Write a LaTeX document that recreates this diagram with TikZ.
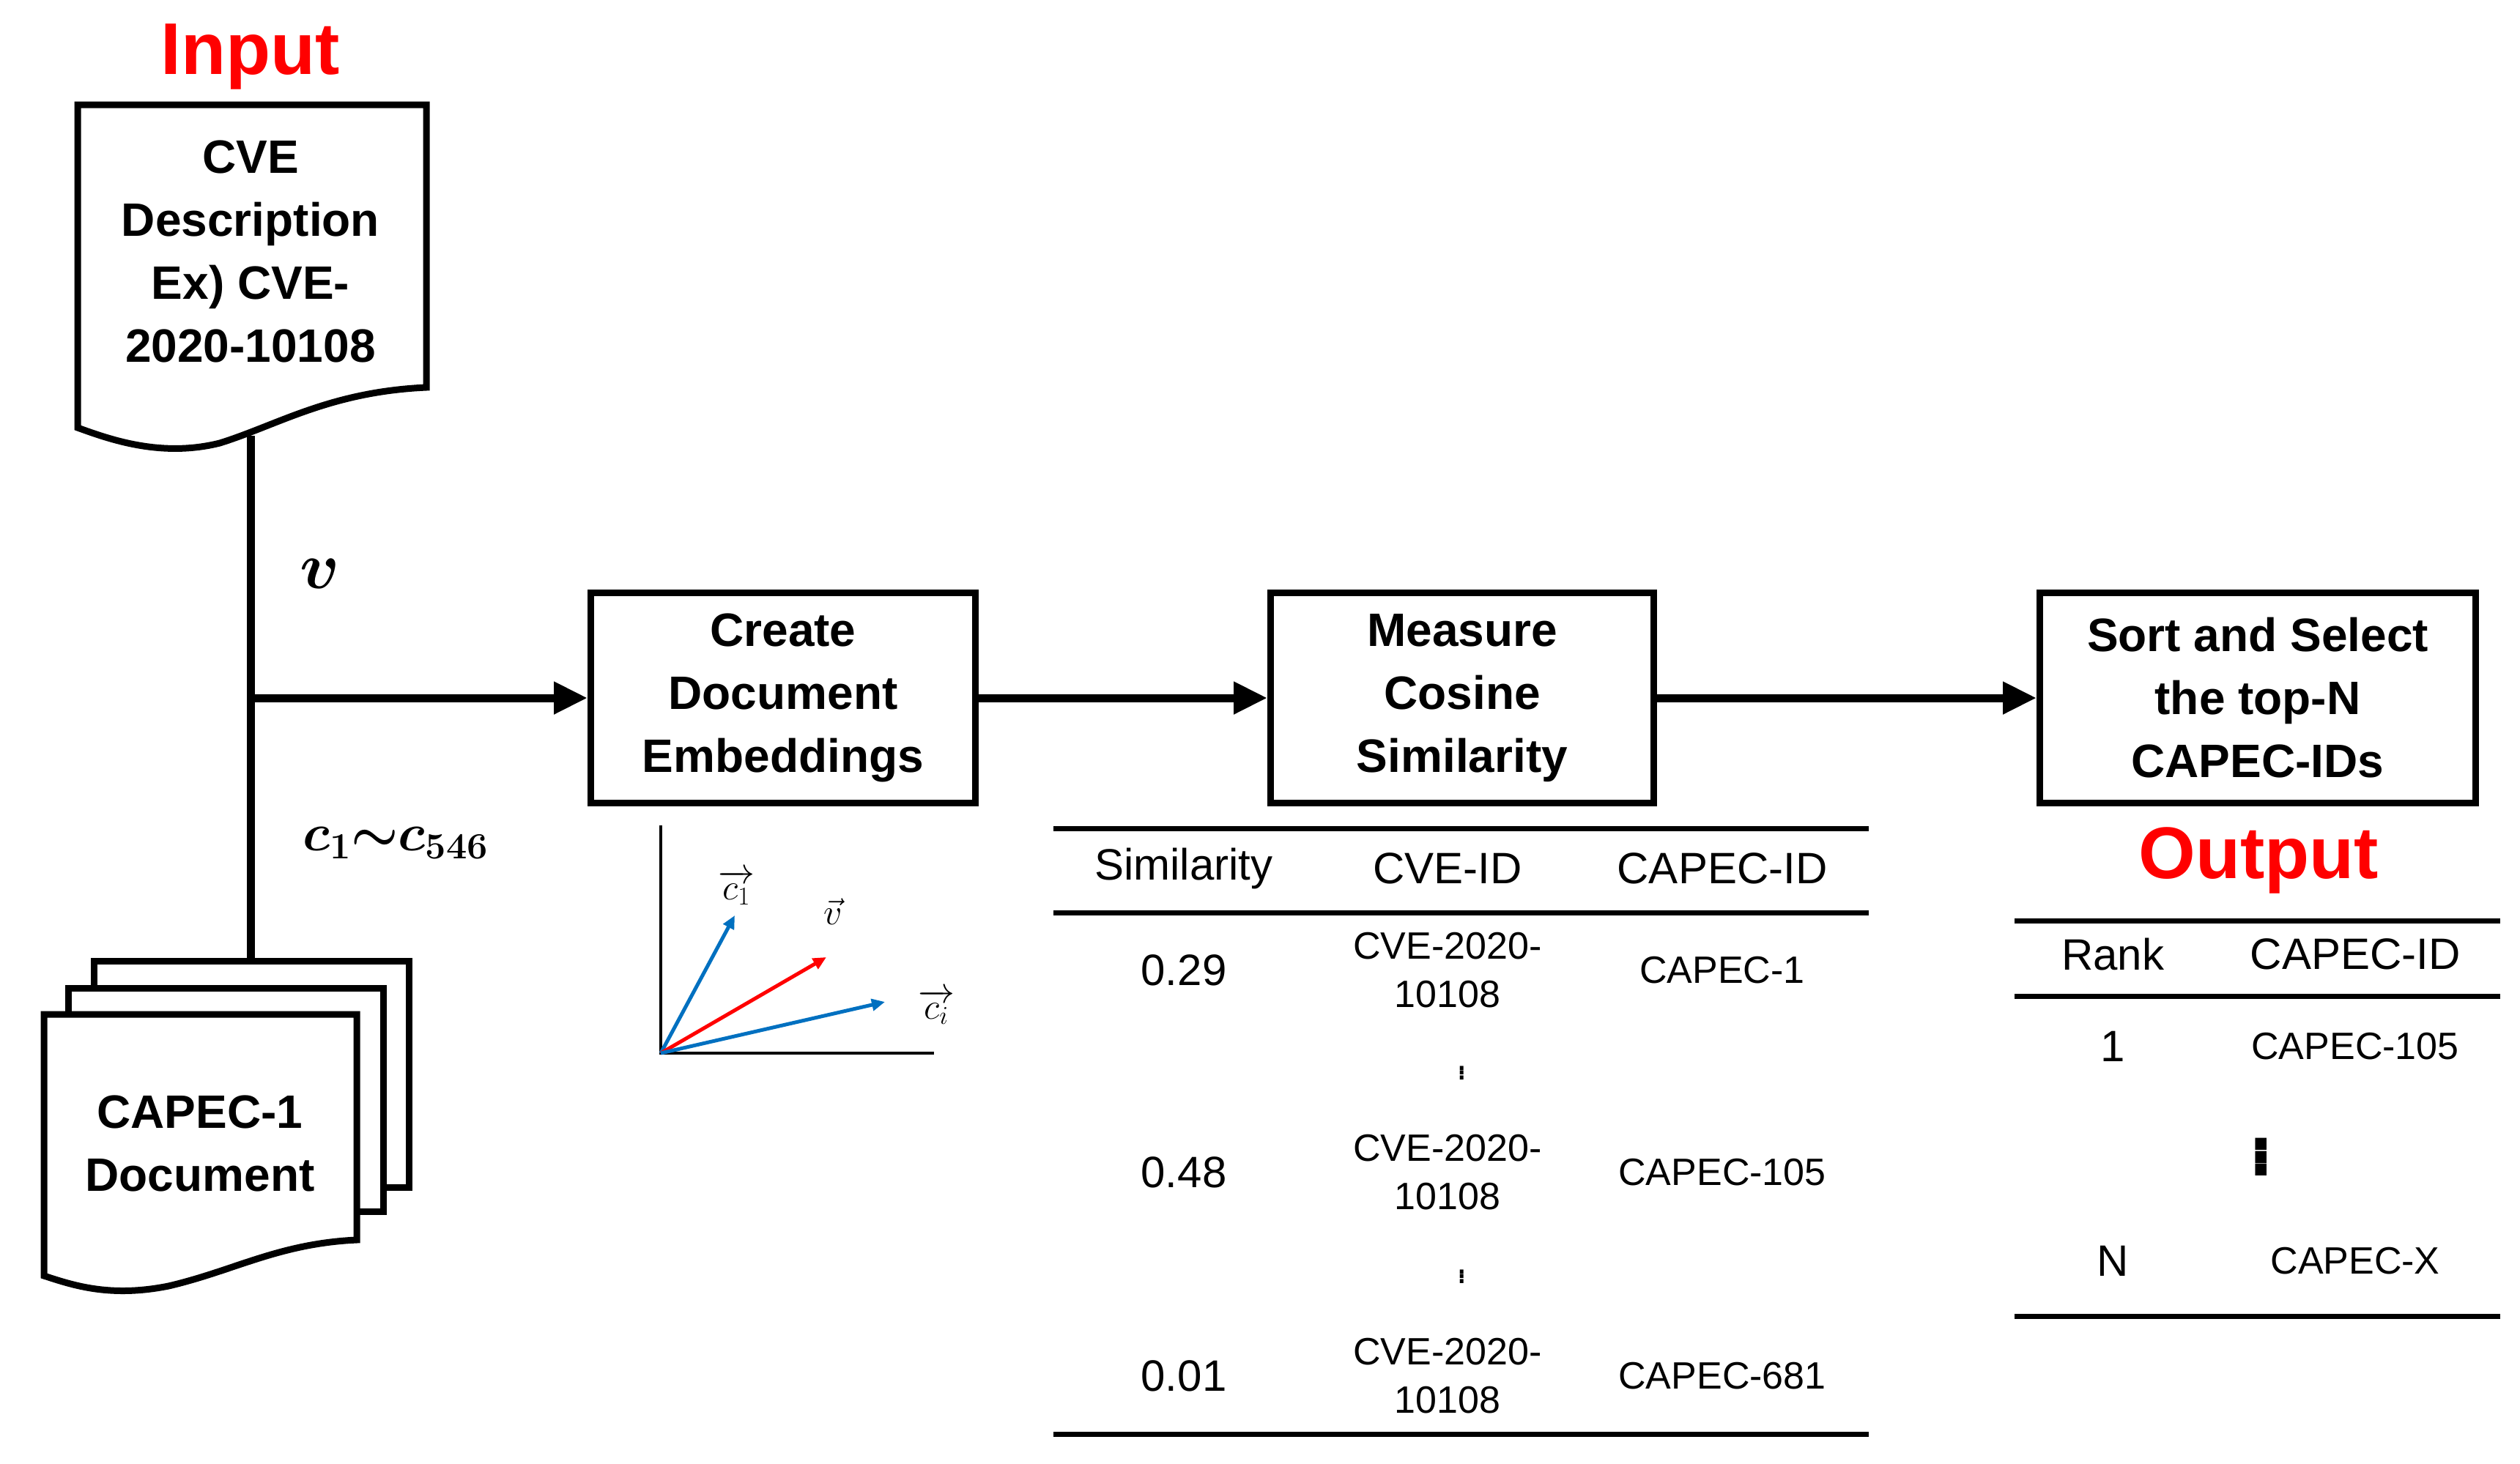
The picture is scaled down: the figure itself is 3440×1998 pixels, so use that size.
\RequirePackage{fix-cm}
\documentclass[tikz,border=0pt]{standalone}
\usepackage{amsmath,bm}
\usepackage{fontspec}
\setmainfont{Liberation Sans}
\usetikzlibrary{arrows.meta}
\definecolor{vblue}{RGB}{0,112,192}
\begin{document}
\begin{tikzpicture}[x=1pt,y=-1pt,
  box/.style={draw,line width=9pt,minimum width=#1,minimum height=287pt,align=center,inner sep=0pt,
    font=\bfseries\fontsize{64}{86}\selectfont},
  doc/.style={draw,line width=9pt,fill=white,line join=miter},
  flow/.style={line width=11pt,-{Triangle[length=46pt,width=42pt]}},
  rule/.style={line width=7pt},
  th/.style={font=\fontsize{60}{72}\selectfont},
  td/.style={font=\fontsize{52}{66}\selectfont,align=center},
  tv/.style={font=\fontsize{60}{72}\selectfont}]
\useasboundingbox (0,0) rectangle (3440,1998);
% Input document
\node[text=red,font=\bfseries\fontsize{100}{110}\selectfont] (inlab) at (342,77) {Input};
\draw[doc] (106,143) -- (582,143) -- (582,529) .. controls (450,535) and (380,580) .. (300,605)
  .. controls (220,625) and (150,600) .. (106,584) -- cycle;
\node[align=center,font=\bfseries\fontsize{64}{86}\selectfont] (cve) at (342,343) {CVE\\Description\\Ex) CVE-\\2020-10108};
\coordinate (cvebot) at (342,595);
\coordinate (stacktop) at (342,1312);
\coordinate (junc) at (342,953);
% CAPEC stack
\draw[doc] (128,1312) rectangle (558,1621);
\draw[doc] (93,1349) rectangle (523,1654);
\draw[doc] (60,1385) -- (487,1385) -- (487,1693) .. controls (380,1698) and (320,1735) .. (230,1756)
  .. controls (150,1772) and (100,1755) .. (60,1742) -- cycle;
\node[align=center,font=\bfseries\fontsize{64}{86}\selectfont] (capec) at (273,1561) {CAPEC-1\\Document};
\draw[line width=11pt] (cvebot) -- (stacktop);
\node (vlab) at (437,783) {\fontsize{90}{90}\selectfont$\bm{v}$};
\node (clab) at (540,1151) {\fontsize{72}{72}\selectfont$\bm{c_1{\sim}c_{546}}$};
% boxes
\node[box=525pt] (create) at (1069,953) {Create\\Document\\Embeddings};
\node[box=523pt] (measure) at (1996,953) {Measure\\Cosine\\Similarity};
\node[box=595pt] (sort) at (3082,953) {Sort and Select\\the top-N\\CAPEC-IDs};
\draw[flow] (junc) -- (create.west);
\draw[flow] (create.east) -- (measure.west);
\draw[flow] (measure.east) -- (sort.west);
% vector plot
\coordinate (o) at (902,1438);
\coordinate (ytop) at (902,1127);
\coordinate (xend) at (1275,1438);
\draw[line width=4pt] (ytop) -- (o) -- (xend);
\coordinate (c1tip) at (1003,1250);
\coordinate (vtip) at (1128,1307);
\coordinate (citip) at (1208,1368);
\draw[vblue,line width=5pt,-{Triangle[length=18pt,width=16pt]}] (o) -- (c1tip);
\draw[red,line width=5pt,-{Triangle[length=18pt,width=16pt]}] (o) -- (vtip);
\draw[vblue,line width=5pt,-{Triangle[length=18pt,width=16pt]}] (o) -- (citip);
\node (c1l) at (1005,1212) {\fontsize{50}{50}\selectfont$\overrightarrow{c_1}$};
\node (vl) at (1137,1245) {\fontsize{50}{50}\selectfont$\vec{v}$};
\node (cil) at (1278,1375) {\fontsize{50}{50}\selectfont$\overrightarrow{c_i}$};
% table 1
\draw[rule] (1438,1131) -- (2551,1131);
\draw[rule] (1438,1246) -- (2551,1246);
\draw[rule] (1438,1958) -- (2551,1958);
\node[th] (h1) at (1616,1186) {Similarity};
\node[th] (h2) at (1976,1186) {CVE-ID};
\node[th] (h3) at (2351,1186) {CAPEC-ID};
\node[tv] (s1) at (1616,1325) {0.29};
\node[td] (i1) at (1976,1325) {CVE-2020-\\10108};
\node[td] (p1) at (2351,1325) {CAPEC-1};
\node[td] (d1) at (1996,1462) {$\vdots$};
\node[tv] (s2) at (1616,1601) {0.48};
\node[td] (i2) at (1976,1601) {CVE-2020-\\10108};
\node[td] (p2) at (2351,1601) {CAPEC-105};
\node[td] (d2) at (1996,1740) {$\vdots$};
\node[tv] (s3) at (1616,1879) {0.01};
\node[td] (i3) at (1976,1879) {CVE-2020-\\10108};
\node[td] (p3) at (2351,1879) {CAPEC-681};
% output
\node[text=red,font=\bfseries\fontsize{100}{110}\selectfont] (outlab) at (3083,1175) {Output};
\draw[rule] (2750,1257) -- (3413,1257);
\draw[rule] (2750,1360) -- (3413,1360);
\draw[rule] (2750,1797) -- (3413,1797);
\node[th] (r1) at (2884,1303) {Rank};
\node[th] (r2) at (3215,1303) {CAPEC-ID};
\node[tv] (rk1) at (2884,1429) {1};
\node[td] (rc1) at (3215,1429) {CAPEC-105};
\node[font=\fontsize{110}{110}\selectfont] (rdots) at (3087,1577) {$\bm{\vdots}$};
\node[tv] (rkn) at (2884,1722) {N};
\node[td] (rcn) at (3215,1722) {CAPEC-X};
\end{tikzpicture}
\end{document}
